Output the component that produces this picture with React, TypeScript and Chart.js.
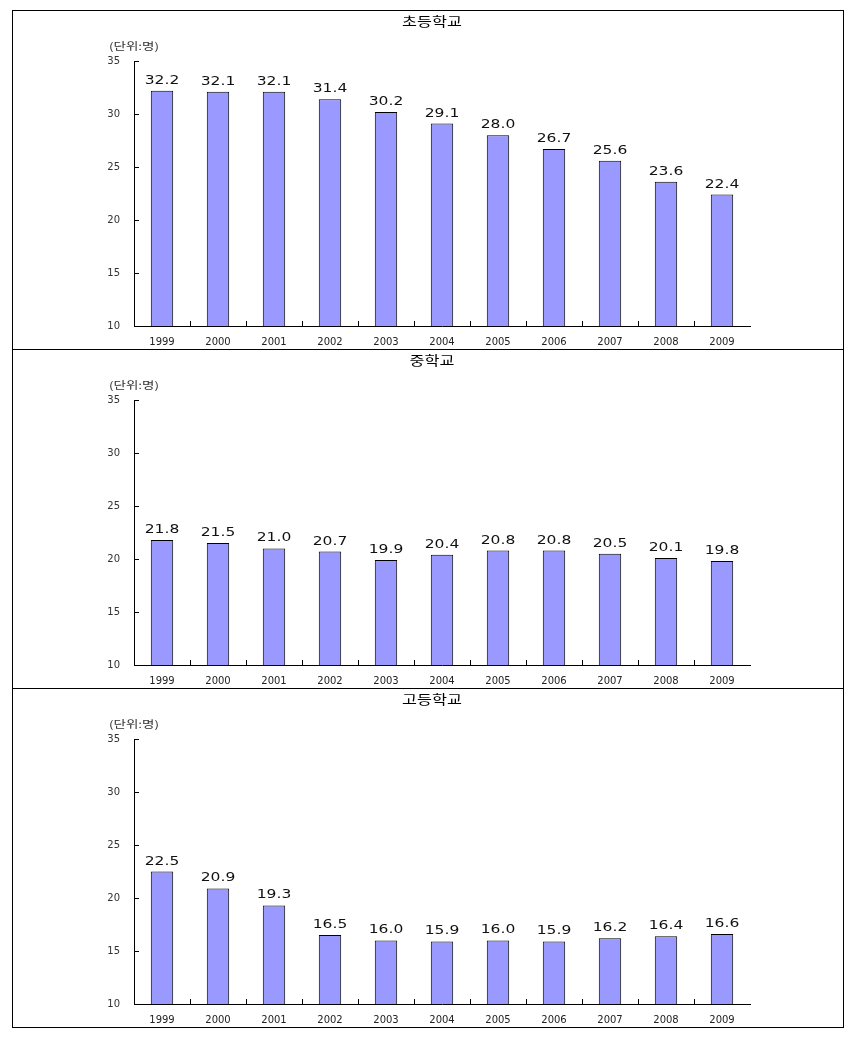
import React, { useEffect, useRef } from "react";
import { Chart, registerables } from "chart.js";

Chart.register(...registerables);

const years = ["1999", "2000", "2001", "2002", "2003", "2004", "2005", "2006", "2007", "2008", "2009"];
const elementary = [32.2, 32.1, 32.1, 31.4, 30.2, 29.1, 28.0, 26.7, 25.6, 23.6, 22.4];
const middle = [21.8, 21.5, 21.0, 20.7, 19.9, 20.4, 20.8, 20.8, 20.5, 20.1, 19.8];
const high = [22.5, 20.9, 19.3, 16.5, 16.0, 15.9, 16.0, 15.9, 16.2, 16.4, 16.6];
const titles = ["초등학교", "중학교", "고등학교"];
const unitLabel = "(단위:명)";
const yMin = 10;
const yMax = 35;
const yStep = 5;

const PANEL_W = 830;
const PANEL_H = 338;

const decoPlugin = {
  id: "deco",
  afterDraw(chart: any) {
    const ctx = chart.ctx;
    const xs = chart.scales.x;
    const ys = chart.scales.y;
    const area = chart.chartArea;
    ctx.save();
    ctx.strokeStyle = "#000";
    ctx.lineWidth = 1;
    ctx.beginPath();
    // inward y ticks
    ys.ticks.forEach((t: any) => {
      const py = Math.round(ys.getPixelForValue(t.value)) + 0.5;
      ctx.moveTo(area.left, py);
      ctx.lineTo(area.left + 5, py);
    });
    // inward x ticks at category boundaries
    for (let i = 1; i < years.length; i++) {
      const px = Math.round(xs.getPixelForValue(i - 0.5)) + 0.5;
      ctx.moveTo(px, area.bottom);
      ctx.lineTo(px, area.bottom - 5);
    }
    ctx.stroke();

    // value labels
    const meta = chart.getDatasetMeta(0);
    const data = chart.data.datasets[0].data;
    ctx.fillStyle = "#111";
    ctx.font = "11.5px 'DejaVu Sans'";
    ctx.textAlign = "center";
    ctx.textBaseline = "alphabetic";
    meta.data.forEach((el: any, i: number) => {
      ctx.save();
      ctx.translate(el.x, el.y - 7);
      ctx.scale(1.35, 1);
      ctx.fillText(Number(data[i]).toFixed(1), 0, 0);
      ctx.restore();
    });
    ctx.restore();
  },
};

function Panel({ title, values, last }: { title: string; values: number[]; last: boolean }) {
  const ref = useRef<HTMLCanvasElement>(null);
  useEffect(() => {
    if (!ref.current) return;
    const chart = new Chart(ref.current, {
      type: "bar",
      data: {
        labels: years,
        datasets: [
          {
            data: values,
            backgroundColor: "#9999FF",
            borderColor: "#000",
            borderWidth: 1,
            barPercentage: 0.4,
            categoryPercentage: 1,
            base: yMin,
          } as any,
        ],
      },
      options: {
        responsive: false,
        animation: false,
        devicePixelRatio: 1,
        layout: { padding: { top: 50, right: 93, bottom: 0, left: 0 } },
        plugins: { legend: { display: false }, tooltip: { enabled: false }, title: { display: false } },
        scales: {
          x: {
            grid: { display: false, drawTicks: false },
            border: { display: true, color: "#000", width: 1 },
            ticks: { color: "#222", font: { family: "'DejaVu Sans'", size: 10 }, padding: 10, maxRotation: 0, autoSkip: false },
            afterFit: (s: any) => { s.height = 23; },
          },
          y: {
            min: yMin,
            max: yMax,
            grid: { display: false, drawTicks: false },
            border: { display: true, color: "#000", width: 1 },
            ticks: { stepSize: yStep, color: "#333", font: { family: "'DejaVu Sans'", size: 10 }, padding: 14 },
            afterFit: (s: any) => { s.width = 121; },
          },
        },
      },
      plugins: [decoPlugin],
    });
    return () => chart.destroy();
  }, [values]);

  return (
    <div
      style={{
        position: "relative",
        width: PANEL_W,
        height: PANEL_H,
        borderBottom: last ? "none" : "1px solid #000",
      }}
    >
      <canvas ref={ref} width={PANEL_W} height={PANEL_H} style={{ display: "block" }} />
      <div
        style={{
          position: "absolute",
          left: 419,
          top: 9,
          transform: "translate(-50%, -50%) scaleX(1.25)",
          fontFamily: "'Noto Sans CJK KR', sans-serif",
          fontSize: 13,
          lineHeight: 1,
          whiteSpace: "nowrap",
          color: "#000",
        }}
      >
        {title}
      </div>
      <div
        style={{
          position: "absolute",
          left: 121,
          top: 35,
          transform: "translate(-50%, -50%) scaleX(1.35)",
          fontFamily: "'Noto Sans CJK KR', sans-serif",
          fontSize: 10,
          lineHeight: 1,
          whiteSpace: "nowrap",
          color: "#333",
        }}
      >
        {unitLabel}
      </div>
    </div>
  );
}

export default function App() {
  const series = [elementary, middle, high];
  return (
    <div
      style={{
        position: "absolute",
        left: 12,
        top: 10,
        width: PANEL_W,
        border: "1px solid #000",
        background: "#fff",
      }}
    >
      {series.map((vals, i) => (
        <Panel key={i} title={titles[i]} values={vals} last={i === series.length - 1} />
      ))}
    </div>
  );
}
